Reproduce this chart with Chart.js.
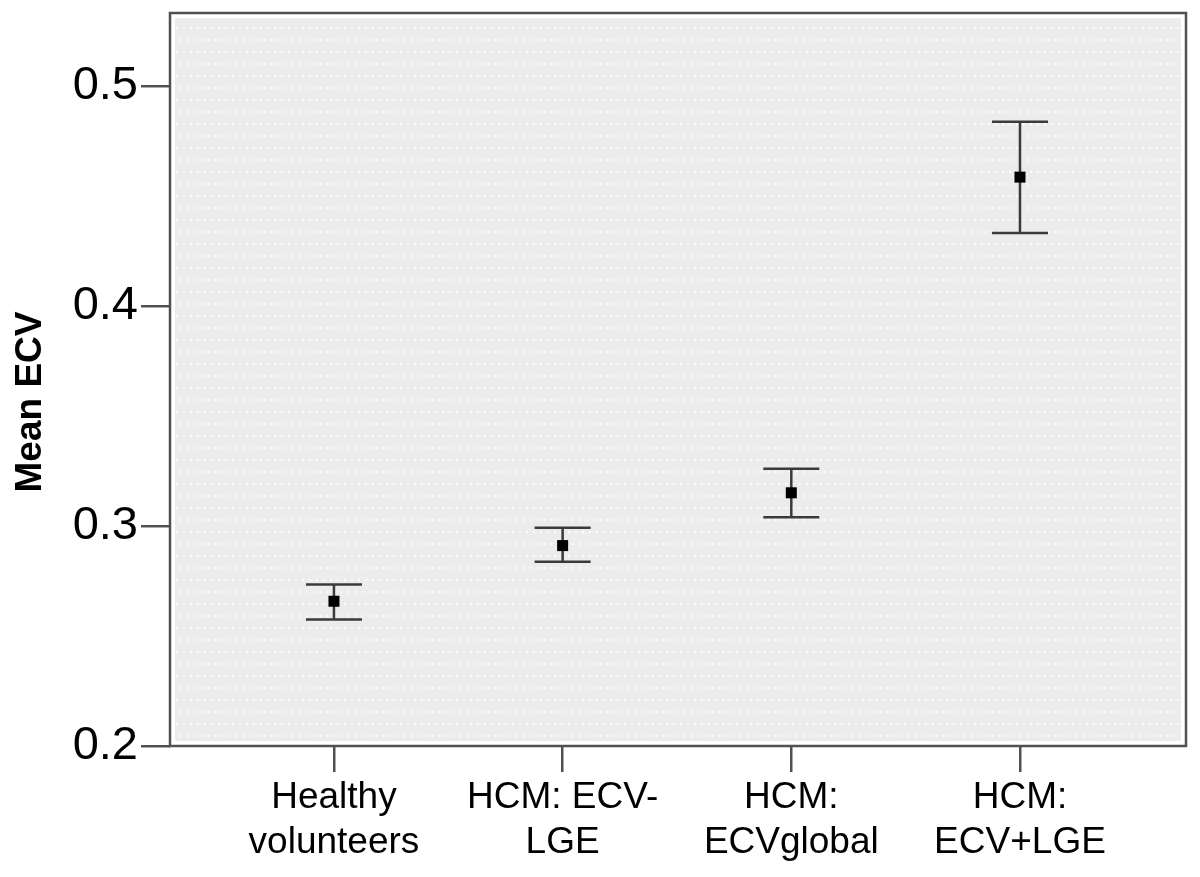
<!DOCTYPE html>
<html>
<head>
<meta charset="utf-8">
<script src="https://cdn.jsdelivr.net/npm/chart.js@4.4.1/dist/chart.umd.min.js"></script>
<style>
html,body{margin:0;padding:0;background:#fff;}
#wrap{width:1200px;height:877px;}
</style>
</head>
<body>
<div id="wrap"><canvas id="c" width="1200" height="877"></canvas></div>
<script>
const categories = [['Healthy','volunteers'], ['HCM: ECV-','LGE'], ['HCM:','ECVglobal'], ['HCM:','ECV+LGE']];
const meanECV  = [0.2658, 0.2911, 0.3151, 0.4586];
const upperCI  = [0.2734, 0.2992, 0.3260, 0.4838];
const lowerCI  = [0.2575, 0.2837, 0.3040, 0.4332];
const yTicks   = [0.2, 0.3, 0.4, 0.5];
const yTitle   = 'Mean ECV';

const FONT = '"Liberation Sans", Arial, sans-serif';

function makePattern(ctx){
  const t = document.createElement('canvas');
  t.width = 14; t.height = 24;
  const g = t.getContext('2d');
  g.fillStyle = '#ececec';
  g.fillRect(0,0,14,24);
  g.fillStyle = '#ffffff';
  for (const [x,y] of [[2,4],[9,4],[5.5,16],[12.5,16]]) {
    g.beginPath(); g.arc(x,y,1.1,0,Math.PI*2); g.fill();
  }
  return ctx.createPattern(t,'repeat');
}

const bgPlugin = {
  id: 'bg',
  beforeDraw(chart){
    const {ctx, chartArea:a} = chart;
    ctx.save();
    ctx.fillStyle = makePattern(ctx);
    ctx.fillRect(a.left, a.top, a.right-a.left, a.bottom-a.top);
    ctx.strokeStyle = '#ffffff';
    ctx.lineWidth = 4;
    ctx.strokeRect(a.left+3, a.top+3, a.right-a.left-6, a.bottom-a.top-6);
    ctx.strokeStyle = '#505050';
    ctx.lineWidth = 2.5;
    ctx.strokeRect(a.left, a.top, a.right-a.left, a.bottom-a.top);
    ctx.restore();
  },
  afterDraw(chart){
    const {ctx} = chart;
    ctx.save();
    ctx.translate(31, 402);
    ctx.rotate(-Math.PI/2);
    ctx.fillStyle = '#000';
    ctx.textAlign = 'center';
    ctx.textBaseline = 'middle';
    ctx.font = 'bold 37px ' + FONT;
    ctx.fillText(yTitle, 0, 0);
    ctx.restore();
  }
};

const errPlugin = {
  id: 'err',
  afterDatasetsDraw(chart){
    const {ctx} = chart;
    const xs = chart.scales.x, ys = chart.scales.y;
    ctx.save();
    ctx.strokeStyle = '#3a3a3a';
    ctx.lineWidth = 2.5;
    for (let i=0;i<meanECV.length;i++){
      const x = xs.getPixelForValue(i);
      const yu = ys.getPixelForValue(upperCI[i]);
      const yl = ys.getPixelForValue(lowerCI[i]);
      ctx.beginPath();
      ctx.moveTo(x, yu); ctx.lineTo(x, yl);
      ctx.moveTo(x-28, yu); ctx.lineTo(x+28, yu);
      ctx.moveTo(x-28, yl); ctx.lineTo(x+28, yl);
      ctx.stroke();
    }
    ctx.restore();
    const meta = chart.getDatasetMeta(0);
    ctx.save();
    ctx.fillStyle = '#000';
    meta.data.forEach(p => { ctx.fillRect(p.x-5.5, p.y-5.5, 11, 11); });
    ctx.restore();
  }
};

new Chart(document.getElementById('c'), {
  type: 'scatter',
  data: {
    datasets: [{
      data: meanECV.map((v,i)=>({x:i, y:v})),
      pointStyle: 'rect',
      pointRadius: 5.5,
      backgroundColor: '#000',
      borderColor: '#000'
    }]
  },
  options: {
    responsive: false,
    animation: false,
    events: [],
    layout: { padding: { top: 13, right: 14, left: 0, bottom: 0 } },
    plugins: { legend: { display: false }, tooltip: { enabled: false } },
    scales: {
      x: {
        type: 'linear',
        min: -0.717,
        max: 3.726,
        afterBuildTicks(s){ s.ticks = categories.map((c,i)=>({value:i})); },
        afterFit(s){ s.height = 131; s.paddingLeft = 0; s.paddingRight = 0; },
        border: { display: false },
        grid: { display: true, drawOnChartArea: false, drawTicks: true, tickLength: 26, color: '#505050', lineWidth: 2.5 },
        ticks: {
          autoSkip: false,
          maxRotation: 0,
          padding: 4,
          color: '#000',
          font: { family: FONT, size: 37, lineHeight: 1.2 },
          callback: (v) => categories[v] || ''
        }
      },
      y: {
        type: 'linear',
        min: 0.2,
        max: 0.5332,
        afterBuildTicks(s){ s.ticks = yTicks.map(v=>({value:v})); },
        afterFit(s){ s.width = 170; s.paddingTop = 0; s.paddingBottom = 0; },
        border: { display: false },
        grid: { display: true, drawOnChartArea: false, drawTicks: true, tickLength: 29, color: '#505050', lineWidth: 2.5 },
        ticks: {
          padding: 3,
          color: '#000',
          font: { family: FONT, size: 47 },
          callback: (v) => v.toFixed(1)
        },
        title: { display: false }
      }
    }
  },
  plugins: [bgPlugin, errPlugin]
});
</script>
</body>
</html>
